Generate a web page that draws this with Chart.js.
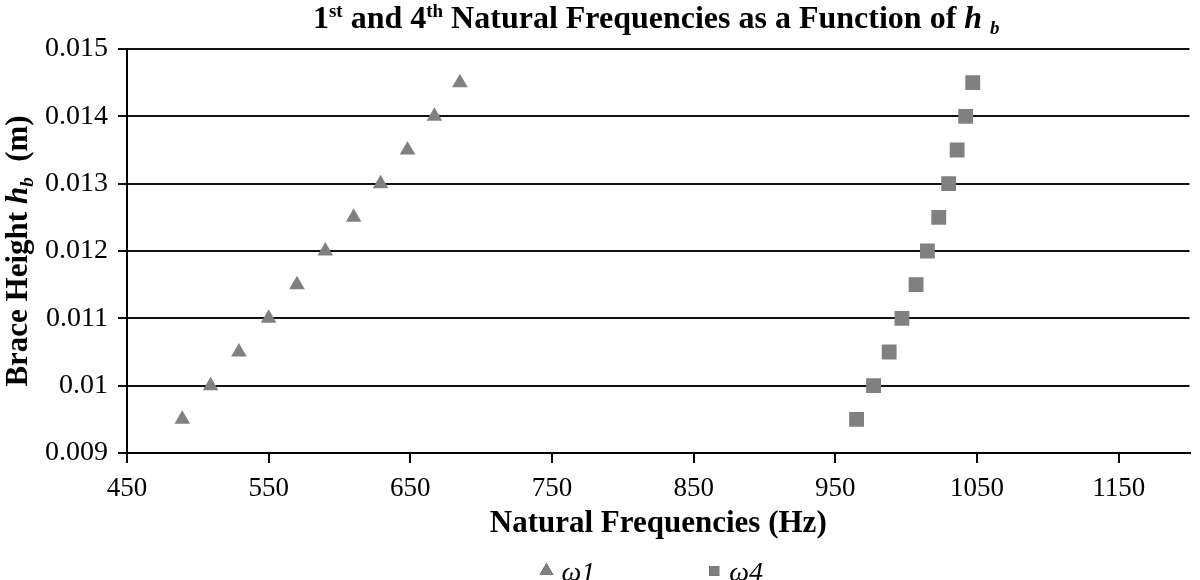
<!DOCTYPE html>
<html>
<head>
<meta charset="utf-8">
<script src="https://cdn.jsdelivr.net/npm/chart.js@4/dist/chart.umd.min.js"></script>
<style>
  html, body { margin: 0; padding: 0; background: #fff; }
  #wrap { width: 1200px; height: 580px; position: relative; }
</style>
</head>
<body>
<div id="wrap"><canvas id="freqChart" width="1200" height="580"></canvas></div>
<script>
// brace height h_b (m) for each point
let braceHeight = [0.0095, 0.010, 0.0105, 0.011, 0.0115, 0.012, 0.0125, 0.013, 0.0135, 0.014, 0.0145];
// natural frequencies (Hz)
let omega1 = [489, 509, 529, 550, 570, 590, 610, 629, 648, 667, 685];
let omega4 = [965, 977, 988, 997, 1007, 1015, 1023, 1030, 1036, 1042, 1047];

let xTicks = [450, 550, 650, 750, 850, 950, 1050, 1150];
let yTicks = [0.009, 0.010, 0.011, 0.012, 0.013, 0.014, 0.015];

const serif = "'Liberation Serif', 'Times New Roman', serif";
Chart.defaults.font.family = serif;
Chart.defaults.color = '#000';

// draw a line of text made of runs with different fonts, centred on x
function drawRuns(ctx, runs, x, y) {
    let total = 0;
    runs.forEach(r => { ctx.font = r.font; total += ctx.measureText(r.text).width; });
    let cx = x - total / 2;
    ctx.textBaseline = 'alphabetic';
    ctx.textAlign = 'left';
    runs.forEach(r => {
        ctx.font = r.font;
        ctx.fillText(r.text, cx, y + (r.dy || 0));
        cx += ctx.measureText(r.text).width;
    });
}

const B = 'bold 31px ' + serif;
const Bt = 'bold 32px ' + serif;
const Bs = 'bold 19px ' + serif;
const BI = 'italic bold 31px ' + serif;
const BIt = 'italic bold 32px ' + serif;
const BIs = 'italic bold 19px ' + serif;

const textPlugin = {
    id: 'textPlugin',
    afterDraw(chart) {
        const ctx = chart.ctx;
        const area = chart.chartArea;
        const mid = (area.left + area.right) / 2;
        ctx.save();
        ctx.fillStyle = '#000';

        // main title
        drawRuns(ctx, [
            {text: '1', font: Bt},
            {text: 'st', font: Bs, dy: -11},
            {text: ' and 4', font: Bt},
            {text: 'th', font: Bs, dy: -11},
            {text: ' Natural Frequencies as a Function of ', font: Bt},
            {text: 'h', font: BIt},
            {text: ' ', font: Bt},
            {text: 'b', font: BIs, dy: 6}
        ], mid - 2, 28);

        // y axis title
        ctx.save();
        ctx.translate(17, (area.top + area.bottom) / 2);
        ctx.rotate(-Math.PI / 2);
        drawRuns(ctx, [
            {text: 'Brace Height ', font: B},
            {text: 'h', font: BI},
            {text: 'b', font: BIs, dy: 6},
            {text: '  (m)', font: B}
        ], 0, 10);
        ctx.restore();

        // legend
        const lf = 'italic 28px ' + serif;
        ctx.font = lf;
        const items = chart.data.datasets.map(ds => ({
            ds: ds, w: 14 + 8 + ctx.measureText(ds.label).width
        }));
        const gap = 112;
        let width = items.reduce((a, it) => a + it.w, 0) + gap * (items.length - 1);
        let lx = mid - width / 2 - 7;
        const ly = 571;
        items.forEach(it => {
            Chart.helpers.drawPoint(ctx, {
                pointStyle: it.ds.pointStyle,
                radius: it.ds.pointStyle === 'triangle' ? 8 : 7,
                rotation: 0,
                borderWidth: 0
            }, lx + 7, ly);
            ctx.fillStyle = it.ds.backgroundColor;
            ctx.fill();
            ctx.fillStyle = '#000';
            ctx.font = lf;
            ctx.textBaseline = 'alphabetic';
            ctx.textAlign = 'left';
            ctx.fillText(it.ds.label, lx + 22, 581);
            lx += it.w + gap;
        });
        ctx.restore();
    }
};

var ctx = document.getElementById('freqChart');
var freqChart = new Chart(ctx, {
    type: 'scatter',
    data: {
        datasets: [
            {
                label: 'ω1',
                data: omega1.map((f, i) => ({x: f, y: braceHeight[i]})),
                pointStyle: 'triangle',
                pointRadius: 9,
                backgroundColor: '#808080',
                borderColor: '#808080',
                borderWidth: 0
            },
            {
                label: 'ω4',
                data: omega4.map((f, i) => ({x: f, y: braceHeight[i]})),
                pointStyle: 'rect',
                pointRadius: 10.5,
                backgroundColor: '#808080',
                borderColor: '#808080',
                borderWidth: 0
            }
        ]
    },
    options: {
        responsive: false,
        animation: false,
        layout: { padding: { top: 49, left: 0, right: 8, bottom: 37 } },
        plugins: {
            legend: { display: false },
            tooltip: { enabled: false },
            title: { display: false }
        },
        scales: {
            x: {
                type: 'linear',
                min: 450,
                max: 1200,
                afterBuildTicks: s => { s.ticks = xTicks.map(v => ({value: v})); },
                afterFit: s => { s.height = 90; },
                ticks: {
                    font: { size: 27 },
                    padding: 10,
                    maxRotation: 0,
                    callback: v => String(v)
                },
                grid: {
                    drawOnChartArea: false,
                    drawTicks: true,
                    tickLength: 10,
                    color: '#000',
                    lineWidth: 2
                },
                border: { display: true, color: '#000', width: 2 },
                title: {
                    display: true,
                    text: 'Natural Frequencies (Hz)',
                    font: { size: 31, weight: 'bold' },
                    padding: { top: 0, bottom: 0 }
                }
            },
            y: {
                type: 'linear',
                min: 0.009,
                max: 0.015,
                afterBuildTicks: s => { s.ticks = yTicks.map(v => ({value: v})); },
                afterFit: s => { s.width = 127; },
                ticks: {
                    font: { size: 28 },
                    padding: 10,
                    callback: v => String(Math.round(v * 1000) / 1000)
                },
                grid: {
                    drawOnChartArea: true,
                    drawTicks: true,
                    tickLength: 9,
                    color: '#111',
                    lineWidth: 2
                },
                border: { display: true, color: '#000', width: 2 }
            }
        }
    },
    plugins: [textPlugin]
});
</script>
</body>
</html>
